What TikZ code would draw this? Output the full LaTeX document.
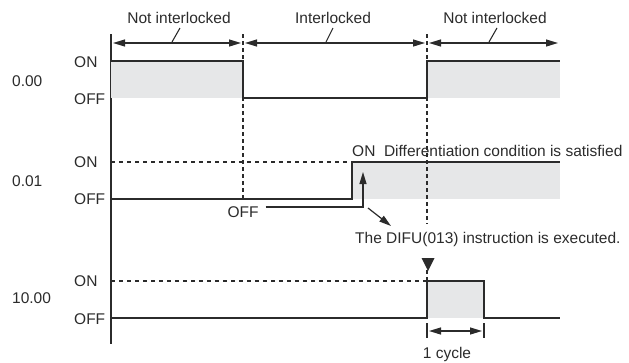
\documentclass[tikz,border=0pt]{standalone}
\usepackage{fontspec}
\setmainfont{Liberation Sans}
\usetikzlibrary{arrows.meta}
\definecolor{sig}{HTML}{2B2B2B}
\definecolor{shade}{HTML}{E6E7E8}
\begin{document}
\begin{tikzpicture}[x=1pt,y=-1pt,
  txt/.style={font=\fontsize{15.5}{18}\selectfont, inner sep=0pt, anchor=base, text=sig},
  lbl/.style={txt, anchor=base west},
  sigline/.style={draw=sig, line width=1.6pt},
  axisline/.style={draw=sig, line width=1.8pt},
  dashv/.style={draw=sig, line width=1.2pt, dash pattern=on 4pt off 3pt},
  dashh/.style={draw=sig, line width=1.1pt, dash pattern=on 4pt off 4pt},
  arr/.style={draw=sig, line width=1.2pt, -{Triangle[length=12pt,width=7pt]}},
  darr/.style={draw=sig, line width=1.2pt, {Triangle[length=12pt,width=7pt]}-{Triangle[length=12pt,width=7pt]}},
  slash/.style={draw=sig, line width=1.1pt},
  shadebox/.style={fill=shade}]
\useasboundingbox (0,0) rectangle (629,362);

% --- vertical axis and dashed guides
\coordinate (axT) at (111,34);
\coordinate (axB) at (111,344);
\draw[axisline] (axT) -- (axB);

\coordinate (g1T) at (243,34);
\coordinate (g1B) at (243,199);
\coordinate (g2T) at (427,34);
\coordinate (g2M) at (427,224);
\coordinate (g2C) at (427,270);
\coordinate (g2B) at (427,281);

% --- shading
\fill[shadebox] (111,61) rectangle (243,98);
\fill[shadebox] (428,61) rectangle (560,98);
\fill[shadebox] (353,162) rectangle (560,199);
\fill[shadebox] (428,281) rectangle (484,318);

\draw[dashv] (g1T) -- (g1B);
\draw[dashv] (g2T) -- (g2M);
\draw[dashv] (g2C) -- (g2B);
\fill[sig] (421.5,258) -- (434.5,258) -- (428,271) -- cycle;

% --- top interval arrows
\coordinate (a1L) at (113,43); \coordinate (a1R) at (241,43);
\coordinate (a2L) at (245,43); \coordinate (a2R) at (425,43);
\coordinate (a3L) at (429,43); \coordinate (a3R) at (558,43);
\draw[darr] (a1L) -- (a1R);
\draw[darr] (a2L) -- (a2R);
\draw[darr] (a3L) -- (a3R);

\node[txt] (ni1) at (179,23) {Not interlocked};
\node[txt] (il) at (333,23) {Interlocked};
\node[txt] (ni2) at (495,23) {Not interlocked};
\draw[slash] (180,28) -- (172,42);
\draw[slash] (333,28) -- (326,42);
\draw[slash] (497,28) -- (489,42);

% --- signal 0.00
\node[lbl] (n0) at (12,86) {0.00};
\node[lbl] (n0on) at (74,67) {ON};
\node[lbl] (n0off) at (74,104) {OFF};
\draw[sigline] (111,61) -- (243,61) -- (243,98) -- (427,98) -- (427,61) -- (560,61);

% --- signal 0.01
\node[lbl] (n1) at (12,186) {0.01};
\node[lbl] (n1on) at (74,167) {ON};
\node[lbl] (n1off) at (74,204) {OFF};
\draw[dashh] (111,162) -- (352,162);
\draw[sigline] (111,199) -- (352,199) -- (352,162) -- (560,162);
\node[lbl] (cond) at (352,156) {ON\ \ Differentiation condition is satisfied};

\node[txt] (offlbl) at (243,217) {OFF};
\coordinate (offcorner) at (363,207);
\coordinate (offtip) at (363,172);
\draw[arr] (offlbl.east |- offcorner) ++(7,0) coordinate (offstart) -- (offcorner) -- (offtip);

\coordinate (dgS) at (368,208);
\coordinate (dgE) at (391,226);
\draw[arr] (dgS) -- (dgE);
\node[lbl] (difu) at (355,243) {The DIFU(013) instruction is executed.};

% --- signal 10.00
\node[lbl] (n2) at (12,303) {10.00};
\node[lbl] (n2on) at (74,286) {ON};
\node[lbl] (n2off) at (74,324) {OFF};
\draw[dashh] (111,281) -- (427,281);
\draw[sigline] (111,318) -- (427,318) -- (427,281) -- (484,281) -- (484,318) -- (560,318);

% --- cycle width
\coordinate (c1T) at (427,323); \coordinate (c1B) at (427,338);
\coordinate (c2T) at (484,323); \coordinate (c2B) at (484,338);
\draw[slash] (c1T) -- (c1B);
\draw[slash] (c2T) -- (c2B);
\coordinate (cyL) at (429,331); \coordinate (cyR) at (482,331);
\draw[darr] (cyL) -- (cyR);
\node[txt] (cyc) at (447,358) {1 cycle};
\end{tikzpicture}
\end{document}
